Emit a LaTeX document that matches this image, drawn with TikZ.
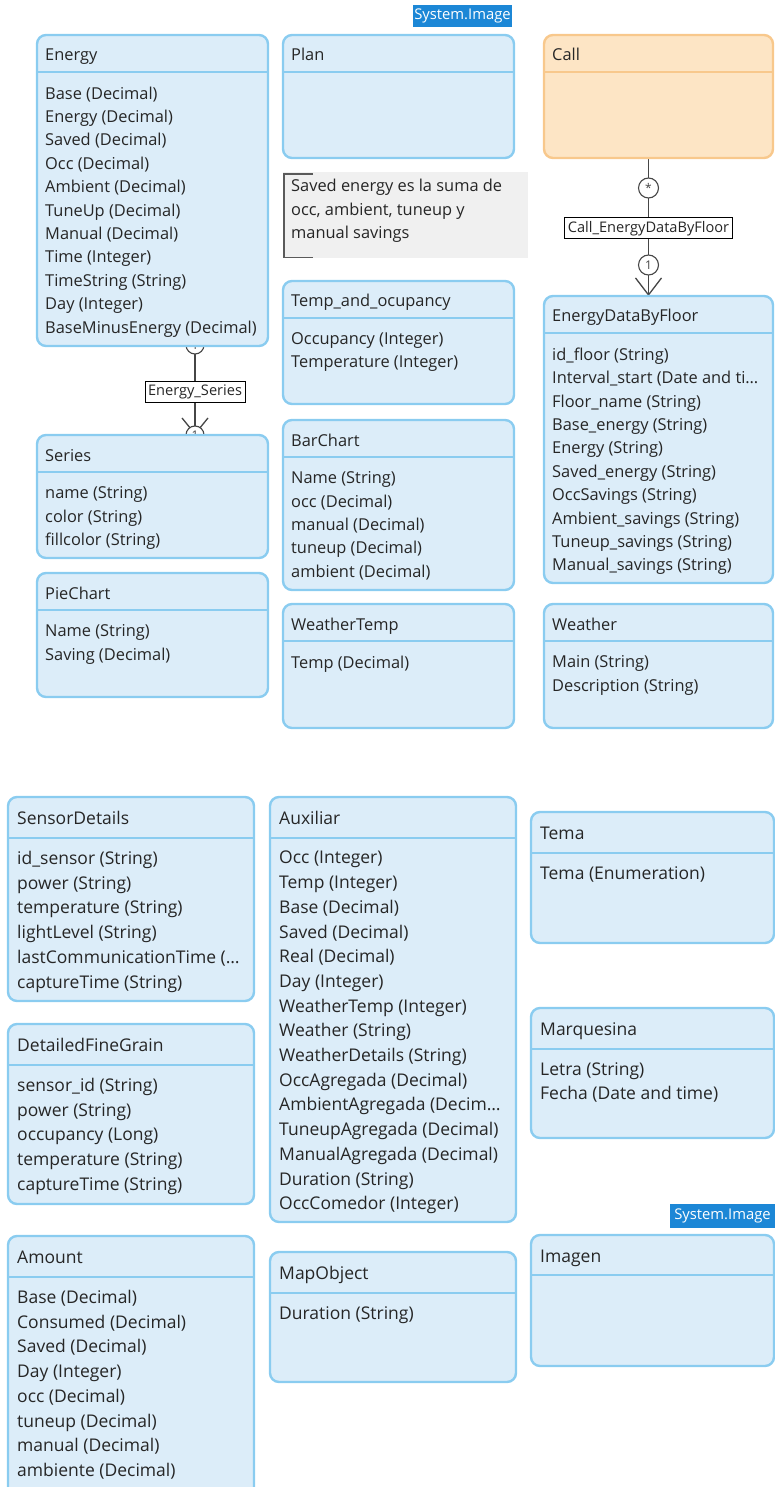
\documentclass[tikz,border=0pt]{standalone}
\usepackage{fontspec}
\setmainfont{Open Sans}
\usetikzlibrary{calc}
\usetikzlibrary{arrows.meta}
\definecolor{clsfill}{RGB}{220,237,249}
\definecolor{clsline}{RGB}{138,204,240}
\definecolor{callfill}{RGB}{253,229,197}
\definecolor{callline}{RGB}{248,200,140}
\definecolor{txt}{RGB}{38,38,38}
\definecolor{tagblue}{RGB}{28,135,214}
\definecolor{notefill}{RGB}{240,240,240}
\definecolor{notedge}{RGB}{90,90,90}
\definecolor{linegray}{RGB}{70,70,70}
\pgfdeclarelayer{back}
\pgfsetlayers{back,main}
\tikzset{
  cls/.style={draw=clsline, fill=clsfill, line width=2.4pt, rounded corners=9pt, anchor=north west, inner sep=0pt, outer sep=0pt},
  callcls/.style={cls, draw=callline, fill=callfill},
  sepline/.style={draw=clsline, line width=2pt},
  callsep/.style={draw=callline, line width=2pt},
  title/.style={anchor=base west, inner sep=0pt, text=txt, font=\fontsize{16.4}{23.4}\selectfont},
  attrs/.style={anchor=north west, inner sep=0pt, align=left, text=txt, font=\fontsize{16.4}{23.4}\selectfont},
  titlebig/.style={title, font=\fontsize{17.5}{24.7}\selectfont},
  attrsbig/.style={attrs, font=\fontsize{17.5}{24.7}\selectfont},
  typetag/.style={fill=tagblue, text=white, inner sep=0pt, font=\fontsize{14.8}{14.8}\selectfont},
  assoc/.style={draw=linegray, line width=1.3pt},
  mult/.style={circle, draw=linegray, fill=white, line width=1.1pt, inner sep=0pt, minimum size=18pt, text=linegray, font=\fontsize{12}{12}\selectfont},
  rolename/.style={draw=black, fill=white, line width=1pt, inner xsep=3pt, inner ysep=0pt, minimum height=21pt, text=txt, font=\fontsize{14.6}{14.6}\selectfont},
  notebox/.style={fill=notefill, anchor=north west, inner sep=0pt, minimum width=245pt, minimum height=86pt}
}
\begin{document}
\begin{tikzpicture}[x=1pt,y=-1pt]
    \useasboundingbox (0,0) rectangle (775,1487);
    \node[typetag, minimum width=99pt, minimum height=22pt] (tagplan) at (462.5,16) {System.Image};
    \node[typetag, minimum width=105pt, minimum height=24pt] (tagimagen) at (722.5,1216) {System.Image};

    \node[cls, minimum width=231pt, minimum height=311pt] (energy) at (37,35) {};
    \node[title] at ($(energy.north west)+(8,26)$) {Energy};
    \draw[sepline] ($(energy.north west)+(0,37)$) -- ($(energy.north east)+(0,37)$);
    \node[attrs] at ($(energy.north west)+(8,51.5)$) {Base (Decimal)\\Energy (Decimal)\\Saved (Decimal)\\Occ (Decimal)\\Ambient (Decimal)\\TuneUp (Decimal)\\Manual (Decimal)\\Time (Integer)\\TimeString (String)\\Day (Integer)\\BaseMinusEnergy (Decimal)};

    \node[cls, minimum width=231pt, minimum height=123pt] (plan) at (283,35) {};
    \node[title] at ($(plan.north west)+(8,26)$) {Plan};
    \draw[sepline] ($(plan.north west)+(0,37)$) -- ($(plan.north east)+(0,37)$);

    \node[callcls, minimum width=229pt, minimum height=123pt] (call) at (544,35) {};
    \node[title] at ($(call.north west)+(8,26)$) {Call};
    \draw[callsep] ($(call.north west)+(0,37)$) -- ($(call.north east)+(0,37)$);

    \node[notebox] (note) at (283,172) {};
    \draw[notedge, line width=1.6pt] ($(note.north west)+(30,2)$) -- ($(note.north west)+(1,2)$) -- ($(note.south west)+(1,-1)$) -- ($(note.south west)+(30,-1)$);
    \node[attrs] at ($(note.north west)+(8,7)$) {Saved energy es la suma de\\occ, ambient, tuneup y\\manual savings};

    \node[cls, minimum width=231pt, minimum height=123pt] (tempocc) at (283,281) {};
    \node[title] at ($(tempocc.north west)+(8,26)$) {Temp\_and\_ocupancy};
    \draw[sepline] ($(tempocc.north west)+(0,37)$) -- ($(tempocc.north east)+(0,37)$);
    \node[attrs] at ($(tempocc.north west)+(8,51.5)$) {Occupancy (Integer)\\Temperature (Integer)};

    \node[cls, minimum width=231pt, minimum height=170pt] (barchart) at (283,420) {};
    \node[title] at ($(barchart.north west)+(8,26)$) {BarChart};
    \draw[sepline] ($(barchart.north west)+(0,37)$) -- ($(barchart.north east)+(0,37)$);
    \node[attrs] at ($(barchart.north west)+(8,51.5)$) {Name (String)\\occ (Decimal)\\manual (Decimal)\\tuneup (Decimal)\\ambient (Decimal)};

    \node[cls, minimum width=231pt, minimum height=124pt] (weathertemp) at (283,604) {};
    \node[title] at ($(weathertemp.north west)+(8,26)$) {WeatherTemp};
    \draw[sepline] ($(weathertemp.north west)+(0,37)$) -- ($(weathertemp.north east)+(0,37)$);
    \node[attrs] at ($(weathertemp.north west)+(8,51.5)$) {Temp (Decimal)};

    \node[cls, minimum width=229pt, minimum height=287pt] (edbf) at (544,296) {};
    \node[title] at ($(edbf.north west)+(8,26)$) {EnergyDataByFloor};
    \draw[sepline] ($(edbf.north west)+(0,37)$) -- ($(edbf.north east)+(0,37)$);
    \node[attrs] at ($(edbf.north west)+(8,51.5)$) {id\_floor (String)\\Interval\_start (Date and ti\ldots\\Floor\_name (String)\\Base\_energy (String)\\Energy (String)\\Saved\_energy (String)\\OccSavings (String)\\Ambient\_savings (String)\\Tuneup\_savings (String)\\Manual\_savings (String)};

    \node[cls, minimum width=229pt, minimum height=124pt] (weather) at (544,604) {};
    \node[title] at ($(weather.north west)+(8,26)$) {Weather};
    \draw[sepline] ($(weather.north west)+(0,37)$) -- ($(weather.north east)+(0,37)$);
    \node[attrs] at ($(weather.north west)+(8,51.5)$) {Main (String)\\Description (String)};

    \node[cls, minimum width=231pt, minimum height=123pt] (series) at (37,435) {};
    \node[title] at ($(series.north west)+(8,26)$) {Series};
    \draw[sepline] ($(series.north west)+(0,37)$) -- ($(series.north east)+(0,37)$);
    \node[attrs] at ($(series.north west)+(8,51.5)$) {name (String)\\color (String)\\fillcolor (String)};

    \node[cls, minimum width=231pt, minimum height=124pt] (piechart) at (37,573) {};
    \node[title] at ($(piechart.north west)+(8,26)$) {PieChart};
    \draw[sepline] ($(piechart.north west)+(0,37)$) -- ($(piechart.north east)+(0,37)$);
    \node[attrs] at ($(piechart.north west)+(8,51.5)$) {Name (String)\\Saving (Decimal)};

    \node[cls, minimum width=246pt, minimum height=204pt] (sensor) at (8,797) {};
    \node[titlebig] at ($(sensor.north west)+(9,27.2)$) {SensorDetails};
    \draw[sepline] ($(sensor.north west)+(0,41)$) -- ($(sensor.north east)+(0,41)$);
    \node[attrsbig] at ($(sensor.north west)+(9,54)$) {id\_sensor (String)\\power (String)\\temperature (String)\\lightLevel (String)\\lastCommunicationTime (\ldots\\captureTime (String)};

    \node[cls, minimum width=246pt, minimum height=180pt] (finegrain) at (8,1024) {};
    \node[titlebig] at ($(finegrain.north west)+(9,27.2)$) {DetailedFineGrain};
    \draw[sepline] ($(finegrain.north west)+(0,41)$) -- ($(finegrain.north east)+(0,41)$);
    \node[attrsbig] at ($(finegrain.north west)+(9,54)$) {sensor\_id (String)\\power (String)\\occupancy (Long)\\temperature (String)\\captureTime (String)};

    \node[cls, minimum width=246pt, minimum height=262pt] (amount) at (8,1236) {};
    \node[titlebig] at ($(amount.north west)+(9,27.2)$) {Amount};
    \draw[sepline] ($(amount.north west)+(0,41)$) -- ($(amount.north east)+(0,41)$);
    \node[attrsbig] at ($(amount.north west)+(9,54)$) {Base (Decimal)\\Consumed (Decimal)\\Saved (Decimal)\\Day (Integer)\\occ (Decimal)\\tuneup (Decimal)\\manual (Decimal)\\ambiente (Decimal)};

    \node[cls, minimum width=246pt, minimum height=425pt] (auxiliar) at (270,797) {};
    \node[titlebig] at ($(auxiliar.north west)+(9,27.2)$) {Auxiliar};
    \draw[sepline] ($(auxiliar.north west)+(0,41)$) -- ($(auxiliar.north east)+(0,41)$);
    \node[attrsbig] at ($(auxiliar.north west)+(9,54)$) {Occ (Integer)\\Temp (Integer)\\Base (Decimal)\\Saved (Decimal)\\Real (Decimal)\\Day (Integer)\\WeatherTemp (Integer)\\Weather (String)\\WeatherDetails (String)\\OccAgregada (Decimal)\\AmbientAgregada (Decim\ldots\\TuneupAgregada (Decimal)\\ManualAgregada (Decimal)\\Duration (String)\\OccComedor (Integer)};

    \node[cls, minimum width=246pt, minimum height=130pt] (mapobject) at (270,1252) {};
    \node[titlebig] at ($(mapobject.north west)+(9,27.2)$) {MapObject};
    \draw[sepline] ($(mapobject.north west)+(0,41)$) -- ($(mapobject.north east)+(0,41)$);
    \node[attrsbig] at ($(mapobject.north west)+(9,54)$) {Duration (String)};

    \node[cls, minimum width=243pt, minimum height=131pt] (tema) at (531,812) {};
    \node[titlebig] at ($(tema.north west)+(9,27.2)$) {Tema};
    \draw[sepline] ($(tema.north west)+(0,41)$) -- ($(tema.north east)+(0,41)$);
    \node[attrsbig] at ($(tema.north west)+(9,54)$) {Tema (Enumeration)};

    \node[cls, minimum width=243pt, minimum height=130pt] (marquesina) at (531,1008) {};
    \node[titlebig] at ($(marquesina.north west)+(9,27.2)$) {Marquesina};
    \draw[sepline] ($(marquesina.north west)+(0,41)$) -- ($(marquesina.north east)+(0,41)$);
    \node[attrsbig] at ($(marquesina.north west)+(9,54)$) {Letra (String)\\Fecha (Date and time)};

    \node[cls, minimum width=243pt, minimum height=131pt] (imagen) at (531,1235) {};
    \node[titlebig] at ($(imagen.north west)+(9,27.2)$) {Imagen};
    \draw[sepline] ($(imagen.north west)+(0,40)$) -- ($(imagen.north east)+(0,40)$);

    \node[rolename] (eslbl) at (195,391.5) {Energy\_Series};
    \node[rolename] (calllbl) at (648.5,228.5) {Call\_EnergyDataByFloor};
    \begin{pgfonlayer}{back}
    \draw[assoc] (energy.south -| eslbl) -- (eslbl);
    \draw[assoc,-{Straight Barb[length=16pt,width=26pt]}] (eslbl) -- (series.north -| eslbl);
    \node[mult] at ($(energy.south -| eslbl)+(0,-1)$) {1};
    \node[mult] at (series.north -| eslbl) {1};
    \draw[assoc] (call.south -| calllbl) -- (calllbl);
    \draw[assoc,-{Straight Barb[length=17pt,width=26pt]}] (calllbl) -- (edbf.north -| calllbl);
    \node[mult, minimum size=20pt] at ($(call.south -| calllbl)+(0,30)$) {*};
    \node[mult, minimum size=20pt] at ($(edbf.north -| calllbl)+(0,-31)$) {1};
    \end{pgfonlayer}
\end{tikzpicture}
\end{document}
